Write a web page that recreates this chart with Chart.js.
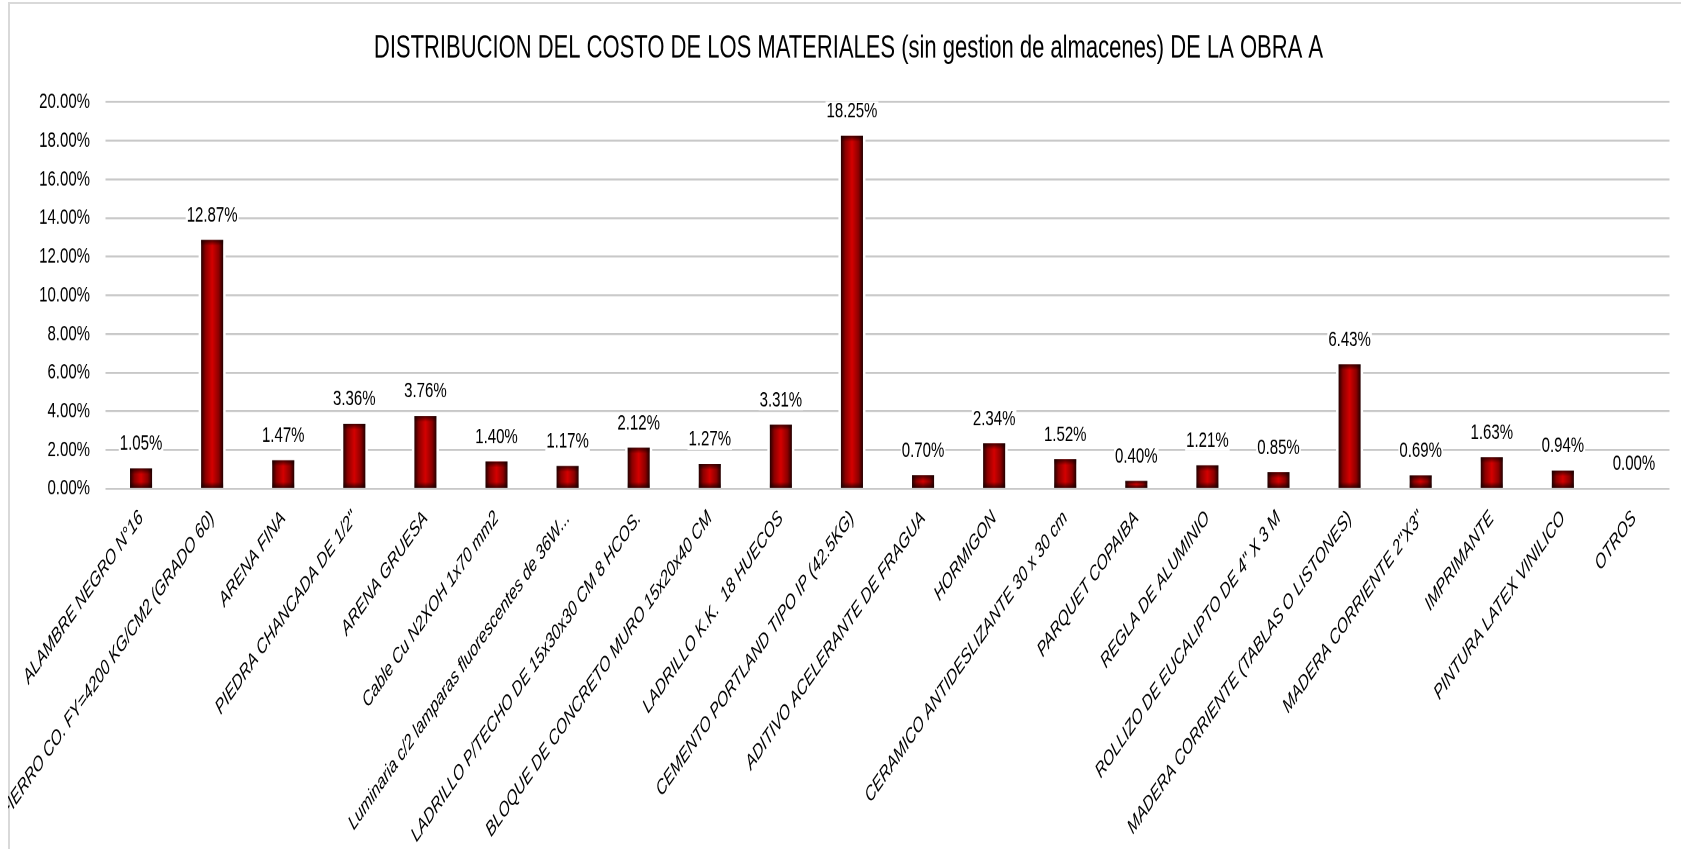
<!DOCTYPE html>
<html>
<head>
<meta charset="utf-8">
<script src="https://cdn.jsdelivr.net/npm/chart.js@4.4.1/dist/chart.umd.min.js"></script>
<style>
  html, body { margin: 0; padding: 0; background: #fff; overflow: hidden; width: 1681px; height: 849px; }
  #frame { position: absolute; left: 8px; top: 2px; width: 1720px; height: 900px; border: 2px solid #d9d9d9; box-sizing: border-box; }
  /* the source picture is stretched vertically, so the chart is drawn flat and stretched back */
  #myChart { position: absolute; left: 8px; top: 0; width: 1681px; height: 590px; transform: scaleY(1.439); transform-origin: 0 0; }
</style>
</head>
<body>
<div id="frame"></div>
<canvas id="myChart" width="1681" height="590"></canvas>
<script>
const titleText = 'DISTRIBUCION DEL COSTO DE LOS MATERIALES (sin gestion de almacenes) DE LA OBRA A'

const materiales = [
  'ALAMBRE NEGRO N°16',
  'FIERRO CO. FY=4200 KG/CM2 (GRADO 60)',
  'ARENA FINA',
  'PIEDRA CHANCADA DE 1/2"',
  'ARENA GRUESA',
  'Cable Cu N2XOH 1x70 mm2',
  'Luminaria c/2 lamparas fluorescentes de 36W...',
  'LADRILLO P/TECHO DE 15x30x30 CM 8 HCOS.',
  'BLOQUE DE CONCRETO MURO 15x20x40 CM',
  'LADRILLO K.K.  18 HUECOS',
  'CEMENTO PORTLAND TIPO IP (42.5KG)',
  'ADITIVO ACELERANTE DE FRAGUA',
  'HORMIGON',
  'CERAMICO ANTIDESLIZANTE 30 x 30 cm',
  'PARQUET COPAIBA',
  'REGLA DE ALUMINIO',
  'ROLLIZO DE EUCALIPTO DE 4" X 3 M',
  'MADERA CORRIENTE (TABLAS O LISTONES)',
  'MADERA CORRIENTE 2"X3"',
  'IMPRIMANTE',
  'PINTURA LATEX VINILICO',
  'OTROS'
]

// percent of total cost
const costo = [1.05, 12.87, 1.47, 3.36, 3.76, 1.40, 1.17, 2.12, 1.27, 3.31, 18.25,
               0.70, 2.34, 1.52, 0.40, 1.21, 0.85, 6.43, 0.69, 1.63, 0.94, 0.00]

const yTicks = [0, 2, 4, 6, 8, 10, 12, 14, 16, 18, 20]

const FONT = "'Liberation Sans', Arial, sans-serif"
const HALO = 2.5

Chart.defaults.font.family = FONT
Chart.defaults.color = '#000'

// red bar with dark sides
const barFill = function (context) {
  const chart = context.chart
  if (!chart.chartArea || !chart.scales.x) return '#b00000'
  const meta = chart.getDatasetMeta(context.datasetIndex)
  const bar = meta.data[context.dataIndex]
  const cx = chart.scales.x.getPixelForValue(context.dataIndex)
  const half = bar && bar.width ? bar.width / 2 : 11
  const g = chart.ctx.createLinearGradient(cx - half, 0, cx + half, 0)
  g.addColorStop(0, '#240000')
  g.addColorStop(0.2, '#8c0000')
  g.addColorStop(0.5, '#d40000')
  g.addColorStop(0.8, '#8c0000')
  g.addColorStop(1, '#240000')
  return g
}

const barExtras = {
  id: 'barExtras',
  // white gap between the grid lines and the bars
  beforeDatasetsDraw(chart) {
    const ctx = chart.ctx
    ctx.save()
    ctx.fillStyle = '#fff'
    chart.getDatasetMeta(0).data.forEach(function (bar) {
      if (bar.base - bar.y <= 0) return
      ctx.fillRect(bar.x - bar.width / 2 - HALO, bar.y - HALO, bar.width + 2 * HALO, bar.base - bar.y + HALO - 0.8)
    })
    ctx.restore()
  },
  // darker top and bottom edges, then the value labels
  afterDatasetsDraw(chart) {
    const ctx = chart.ctx
    ctx.save()
    chart.getDatasetMeta(0).data.forEach(function (bar, i) {
      const left = bar.x - bar.width / 2
      const w = bar.width
      const top = bar.y
      const h = bar.base - top
      if (h > 0) {
        const e = Math.min(4, h / 2)
        let g = ctx.createLinearGradient(0, top, 0, top + e)
        g.addColorStop(0, 'rgba(20,0,0,0.75)')
        g.addColorStop(1, 'rgba(20,0,0,0)')
        ctx.fillStyle = g
        ctx.fillRect(left, top, w, e)
        g = ctx.createLinearGradient(0, bar.base, 0, bar.base - e)
        g.addColorStop(0, 'rgba(20,0,0,0.75)')
        g.addColorStop(1, 'rgba(20,0,0,0)')
        ctx.fillStyle = g
        ctx.fillRect(left, bar.base - e, w, e)
      }
      const txt = costo[i].toFixed(2) + '%'
      ctx.font = '15px ' + FONT
      const tw = ctx.measureText(txt).width
      const ty = bar.y - 17
      ctx.fillStyle = '#fff'
      ctx.fillRect(bar.x - tw / 2 - 1, ty - 7, tw + 2, 14)
      ctx.fillStyle = '#000'
      ctx.textAlign = 'center'
      ctx.textBaseline = 'middle'
      ctx.fillText(txt, bar.x, ty)
    })
    ctx.restore()
  }
}

const ctx = document.getElementById('myChart')

new Chart(ctx, {
  type: 'bar',
  data: {
    labels: materiales,
    datasets: [{
      label: 'Costo',
      data: costo,
      backgroundColor: barFill,
      borderWidth: 0,
      barPercentage: 0.31,
      categoryPercentage: 1
    }]
  },
  options: {
    responsive: false,
    animation: false,
    devicePixelRatio: 2,
    layout: { padding: { left: 19.5, right: 19.5, top: 0, bottom: 0 } },
    plugins: {
      legend: { display: false },
      tooltip: { enabled: false },
      title: {
        display: true,
        text: titleText,
        color: '#000',
        font: { size: 22, weight: 'normal', family: FONT },
        padding: { top: 20.5, bottom: 24 }
      }
    },
    scales: {
      x: {
        grid: { display: false },
        border: { display: false },
        ticks: {
          autoSkip: false,
          maxRotation: 45,
          minRotation: 45,
          padding: 4,
          color: '#000',
          font: { size: 14.5, style: 'italic', family: FONT }
        },
        afterFit(scale) { scale.height = 250.4 }
      },
      y: {
        min: 0,
        max: 20,
        afterBuildTicks(scale) { scale.ticks = yTicks.map(v => ({ value: v })) },
        grid: { color: '#c8c8c8', lineWidth: 1.4, drawTicks: false },
        border: { display: false },
        ticks: {
          padding: 15.5,
          color: '#000',
          font: { size: 15, family: FONT },
          callback: v => v.toFixed(2) + '%'
        },
        afterFit(scale) { scale.width = 78 }
      }
    }
  },
  plugins: [barExtras]
})
</script>
</body>
</html>
